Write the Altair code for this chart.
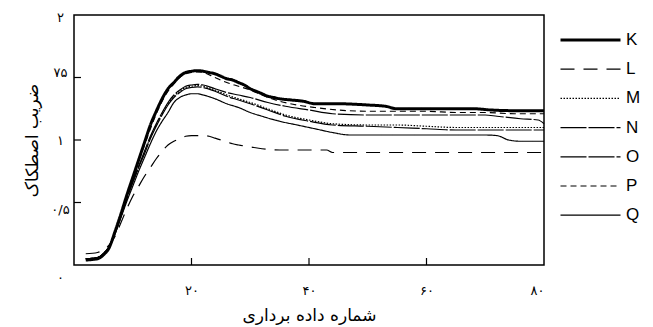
import altair as alt
import pandas as pd

# ---------------- data ----------------
series_names = ["K", "L", "M", "N", "O", "P", "Q"]

K_x = [2, 4, 5, 6, 7, 8, 9, 10, 11, 12, 13, 14, 15, 16, 17, 18, 19, 20, 21, 22, 23, 24, 25, 26, 27, 28, 29, 30, 31, 32, 33, 34, 35, 37, 39, 41, 45, 50, 53, 55, 60, 65, 68, 71, 74, 80]
K_y = [0.04, 0.05, 0.08, 0.14, 0.27, 0.41, 0.56, 0.70, 0.84, 0.98, 1.12, 1.23, 1.33, 1.41, 1.46, 1.51, 1.54, 1.55, 1.555, 1.55, 1.54, 1.53, 1.51, 1.49, 1.48, 1.46, 1.44, 1.41, 1.39, 1.37, 1.35, 1.34, 1.33, 1.32, 1.31, 1.29, 1.29, 1.28, 1.27, 1.25, 1.25, 1.25, 1.25, 1.24, 1.235, 1.235]

P_x = [2, 4, 5, 6, 7, 8, 9, 10, 11, 12, 13, 14, 15, 16, 17, 18, 19, 20, 21, 22, 24, 26, 28, 30, 32, 35, 38, 41, 45, 50, 55, 60, 65, 70, 75, 80]
P_y = [0.05, 0.06, 0.09, 0.15, 0.27, 0.41, 0.55, 0.69, 0.83, 0.96, 1.09, 1.21, 1.31, 1.39, 1.45, 1.50, 1.53, 1.54, 1.545, 1.54, 1.50, 1.46, 1.43, 1.40, 1.36, 1.31, 1.28, 1.26, 1.24, 1.23, 1.23, 1.23, 1.22, 1.22, 1.21, 1.21]

MNO_x = [2, 4, 5, 6, 7, 8, 9, 10, 11, 12, 13, 14, 15, 16, 17, 18, 19, 20, 21, 22, 24, 26, 28, 30, 33, 36, 40, 44, 50, 55, 60, 65, 70, 72, 76, 79, 80]
N_y = [0.05, 0.06, 0.09, 0.15, 0.26, 0.40, 0.54, 0.67, 0.79, 0.91, 1.03, 1.13, 1.22, 1.30, 1.36, 1.40, 1.43, 1.44, 1.445, 1.44, 1.41, 1.38, 1.36, 1.34, 1.30, 1.27, 1.24, 1.21, 1.20, 1.20, 1.20, 1.20, 1.20, 1.19, 1.17, 1.16, 1.13]
M_y = [0.05, 0.06, 0.09, 0.15, 0.26, 0.40, 0.53, 0.66, 0.78, 0.90, 1.02, 1.12, 1.21, 1.29, 1.35, 1.39, 1.42, 1.43, 1.435, 1.43, 1.40, 1.36, 1.33, 1.30, 1.25, 1.20, 1.16, 1.13, 1.12, 1.12, 1.11, 1.10, 1.10, 1.10, 1.10, 1.10, 1.10]
O_y = [0.05, 0.06, 0.09, 0.15, 0.26, 0.39, 0.53, 0.66, 0.78, 0.89, 1.01, 1.11, 1.20, 1.28, 1.34, 1.38, 1.41, 1.42, 1.425, 1.42, 1.39, 1.35, 1.32, 1.29, 1.24, 1.19, 1.15, 1.12, 1.11, 1.10, 1.09, 1.08, 1.08, 1.08, 1.08, 1.08, 1.08]

Q_x = [2, 4, 5, 6, 7, 8, 9, 10, 11, 12, 13, 14, 15, 16, 17, 18, 19, 20, 21, 22, 24, 26, 28, 30, 32, 35, 38, 41, 44, 47, 50, 55, 60, 65, 70, 72, 74, 76, 80]
Q_y = [0.05, 0.06, 0.09, 0.15, 0.25, 0.38, 0.51, 0.63, 0.75, 0.86, 0.97, 1.07, 1.15, 1.22, 1.30, 1.34, 1.36, 1.37, 1.37, 1.36, 1.33, 1.29, 1.26, 1.22, 1.19, 1.15, 1.12, 1.09, 1.06, 1.04, 1.04, 1.04, 1.04, 1.04, 1.04, 1.035, 1.00, 0.99, 0.99]

L_x = [2, 4, 5, 6, 7, 8, 9, 10, 11, 12, 13, 14, 15, 16, 17, 18, 19, 20, 22, 23, 24, 25, 26, 27, 28, 30, 32, 35, 40, 43, 44, 50, 60, 70, 80]
L_y = [0.09, 0.10, 0.12, 0.16, 0.23, 0.34, 0.45, 0.55, 0.63, 0.71, 0.78, 0.85, 0.91, 0.96, 0.99, 1.01, 1.03, 1.035, 1.035, 1.03, 1.015, 1.0, 0.985, 0.97, 0.96, 0.945, 0.93, 0.92, 0.92, 0.92, 0.90, 0.90, 0.90, 0.90, 0.90]

x_tick_values = [20, 40, 60, 80]
x_tick_labels = ["۲۰", "۴۰", "۶۰", "۸۰"]
y_tick_values = [0, 0.5, 1, 1.5, 2]
y_tick_labels = ["۰", "۰/۵", "۱", "۷۵", "۲"]
x_inner_ticks = [20, 40, 60]
y_inner_ticks = [0.5, 1, 1.5]

x_title = "شماره داده برداری"
y_title = "ضریب اصطکاک"

# ---------------- build table ----------------
series_data = {
    "K": (K_x, K_y), "L": (L_x, L_y), "M": (MNO_x, M_y), "N": (MNO_x, N_y),
    "O": (MNO_x, O_y), "P": (P_x, P_y), "Q": (Q_x, Q_y),
}
rows = []
for name in series_names:
    xs, ys = series_data[name]
    for a, b in zip(xs, ys):
        rows.append({"series": name, "x": a, "y": b})
df = pd.DataFrame(rows)

dash_styles = [[1, 0], [14, 9], [1.5, 1.5], [26, 2], [26, 2], [6, 4], [1, 0]]
stroke_widths = [3, 1.2, 1.2, 1.2, 1.2, 1.2, 1.2]


def label_expr(values, labels):
    parts = []
    for v, l in zip(values, labels):
        parts.append(f"datum.value == {v} ? '{l}' : ")
    return "".join(parts) + "''"


FA_FONT = "DejaVu Sans"

x_scale = alt.Scale(domain=[0, 80], nice=False, zero=False)
y_scale = alt.Scale(domain=[0, 2], nice=False)

lines = alt.Chart(df).mark_line(interpolate="monotone", color="black").encode(
    x=alt.X("x:Q", scale=x_scale,
            axis=alt.Axis(values=x_tick_values, labelExpr=label_expr(x_tick_values, x_tick_labels),
                          title=x_title, grid=False, domain=False, ticks=False,
                          labelPadding=19, labelFont=FA_FONT, labelFontSize=13, labelColor="black",
                          titleFont=FA_FONT, titleFontSize=17, titleFontWeight="normal",
                          titleColor="black", titlePadding=10)),
    y=alt.Y("y:Q", scale=y_scale,
            axis=alt.Axis(values=y_tick_values, labelExpr=label_expr(y_tick_values, y_tick_labels),
                          title=y_title, grid=False, domain=False, ticks=False,
                          labelPadding=14, labelAlign="center", labelBaseline="middle",
                          labelOffset={"condition": [
                              {"test": "datum.value == 0", "value": 12},
                              {"test": "datum.value == 0.5", "value": 7},
                              {"test": "datum.value == 1.5", "value": -5},
                              {"test": "datum.value == 2", "value": 2}], "value": 0},
                          labelFont=FA_FONT, labelFontSize=13, labelColor="black",
                          titleFont=FA_FONT, titleFontSize=17, titleFontWeight="normal",
                          titleColor="black", titlePadding=9)),
    strokeDash=alt.StrokeDash("series:N", scale=alt.Scale(domain=series_names, range=dash_styles),
                              legend=alt.Legend(title=None)),
    strokeWidth=alt.StrokeWidth("series:N",
                                scale=alt.Scale(type="ordinal", domain=series_names, range=stroke_widths),
                                legend=alt.Legend(title=None)),
)

xt = alt.Chart(pd.DataFrame({"t": x_inner_ticks})).mark_rule(color="black", strokeWidth=1.2).encode(
    x=alt.X("t:Q", scale=x_scale), y=alt.value(250), y2=alt.value(243)
)
yt = alt.Chart(pd.DataFrame({"t": y_inner_ticks})).mark_rule(color="black", strokeWidth=1.2).encode(
    y=alt.Y("t:Q", scale=y_scale), x=alt.value(0), x2=alt.value(7)
)

chart = alt.layer(lines, xt, yt).properties(
    width=470, height=250,
    autosize=alt.AutoSizeParams(type="none"),
    padding={"left": 66, "top": 7, "right": 101, "bottom": 70},
).configure_view(
    stroke="black", strokeWidth=1.5
).configure_legend(
    orient="none", legendX=485, legendY=17, padding=0,
    symbolType="stroke", symbolSize=3600, clipHeight=16, rowPadding=12.2,
    symbolStrokeColor="black", labelFont="Liberation Sans", labelFontSize=17,
    labelColor="black", labelOffset=4,
)

chart.save("out.html", embed_options={"renderer": "svg", "actions": False})
